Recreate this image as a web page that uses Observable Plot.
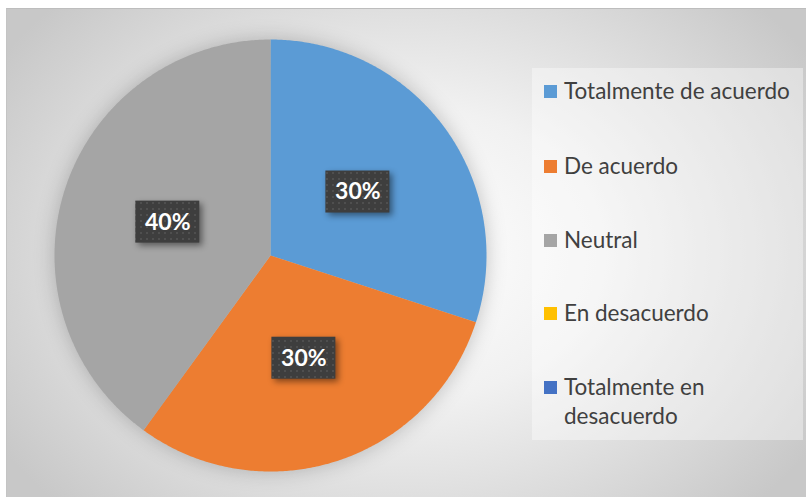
<!DOCTYPE html>
<html>
<head>
<meta charset="utf-8">
<script src="https://cdn.jsdelivr.net/npm/d3@7"></script>
<script src="https://cdn.jsdelivr.net/npm/@observablehq/plot@0.6"></script>
<style>
  html, body { margin: 0; padding: 0; background: #fff; }
  #wrap { position: relative; width: 806px; height: 497px; overflow: hidden; font-family: Lato, "Open Sans", sans-serif; }
  #area { position: absolute; left: 6px; top: 8px; width: 800px; height: 489px;
    border-top: 1px solid #bdbdbd; border-left: 1px solid #c4c4c4; box-sizing: border-box;
    background: radial-gradient(ellipse 60% 75% at 50% 50%, #ffffff 0%, #f1f1f1 40%, #d6d6d6 80%, #c8c8c8 100%); }
  #plot { position: absolute; left: 6px; top: 8px; }
  #legend { position: absolute; left: 532px; top: 68px; width: 271px; height: 372px; background: rgba(255,255,255,0.38); }
  .item { position: absolute; left: 12px; font-size: 22.5px; color: #404040; line-height: 29px; }
  .sw { position: absolute; left: 0; width: 13px; height: 13px; top: 9px; }
  .lab { position: absolute; left: 20px; white-space: nowrap; }
</style>
</head>
<body>
<div id="wrap">
  <div id="area"></div>
  <div id="plot"></div>
  <div id="legend"></div>
</div>
<script>
const categories = ["Totalmente de acuerdo", "De acuerdo", "Neutral", "En desacuerdo", "Totalmente en desacuerdo"];
const values = [30, 30, 40, 0, 0];
const colors = ["#5B9BD5", "#ED7D31", "#A5A5A5", "#FFC000", "#4472C4"];
const legendLines = [["Totalmente de acuerdo"], ["De acuerdo"], ["Neutral"], ["En desacuerdo"], ["Totalmente en", "desacuerdo"]];

const data = categories.map((c, i) => ({cat: c, value: values[i]}));
const total = d3.sum(values);
const arcs = d3.pie().sort(null).value(d => d.value)(data);

// slice polygons in unit-circle coordinates (y up, clockwise from 12 o'clock)
const pts = [];
arcs.filter(a => a.data.value > 0).forEach(a => {
  pts.push({cat: a.data.cat, x: 0, y: 0});
  const n = Math.max(2, Math.ceil((a.endAngle - a.startAngle) / (Math.PI / 360)));
  for (let k = 0; k <= n; k++) {
    const t = a.startAngle + (a.endAngle - a.startAngle) * k / n;
    pts.push({cat: a.data.cat, x: Math.sin(t), y: Math.cos(t)});
  }
});

const labels = arcs.filter(a => a.data.value > 0).map(a => {
  const m = (a.startAngle + a.endAngle) / 2;
  return {x: 0.5 * Math.sin(m), y: 0.5 * Math.cos(m), text: Math.round(a.data.value / total * 100) + "%"};
});
const bw = 32 / 216, bh = 21 / 216;

const plot = Plot.plot({
  width: 800, height: 489,
  margin: 0,
  style: {background: "transparent", overflow: "visible"},
  x: {domain: [-1, 1], range: [48, 480], axis: null},
  y: {domain: [-1, 1], range: [463, 31], axis: null},
  color: {domain: categories, range: colors},
  marks: [
    Plot.line(pts, {x: "x", y: "y", z: "cat", fill: "cat", stroke: "none", curve: "linear-closed"}),
    Plot.rect(labels, {x1: d => d.x - bw, x2: d => d.x + bw, y1: d => d.y - bh, y2: d => d.y + bh, fill: "url(#dots)"}),
    Plot.text(labels, {x: "x", y: "y", text: "text", fill: "white", fontSize: 23, fontWeight: "bold", fontFamily: "Lato, 'Open Sans', sans-serif"})
  ]
});
document.getElementById("plot").appendChild(plot);

const svg = d3.select(plot);
const defs = svg.insert("defs", ":first-child");
const pat = defs.append("pattern").attr("id", "dots").attr("patternUnits", "userSpaceOnUse").attr("width", 6).attr("height", 6);
pat.append("rect").attr("width", 6).attr("height", 6).attr("fill", "#3e3e3e");
pat.append("circle").attr("cx", 3).attr("cy", 3).attr("r", 1).attr("fill", "#555555");
svg.select("g[aria-label='line']").style("filter", "drop-shadow(0px 0px 10px rgba(0,0,0,0.22))");
svg.select("g[aria-label='rect']").style("filter", "drop-shadow(3px 3px 3px rgba(0,0,0,0.45))");

// legend
const legend = d3.select("#legend");
const tops = [8, 83, 157, 230, 304];
categories.forEach((c, i) => {
  const it = legend.append("div").attr("class", "item").style("top", tops[i] + "px");
  it.append("div").attr("class", "sw").style("background", colors[i]);
  legendLines[i].forEach((l, j) => {
    it.append("div").attr("class", "lab").style("top", (j * 29) + "px").text(l);
  });
});
</script>
</body>
</html>
